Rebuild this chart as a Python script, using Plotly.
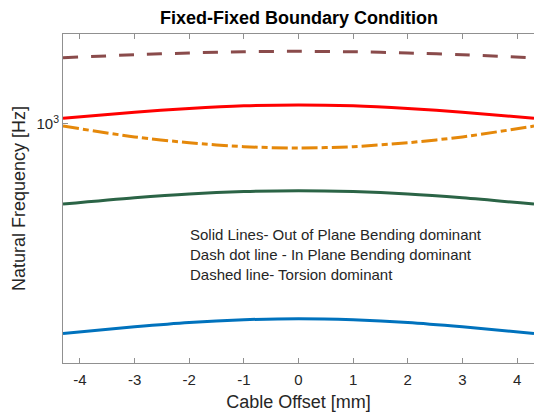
import plotly.graph_objects as go

offset_mm = [-4.31, -3, -2, -1, 0, 1, 2, 3, 4.31]
torsion_hz = [1374, 1394, 1406, 1414, 1417, 1414, 1406, 1394, 1374]
oop_high_hz = [1028, 1058, 1077, 1091, 1096, 1091, 1077, 1058, 1028]
inplane_hz = [990, 940, 914, 897, 891, 897, 914, 940, 990]
oop_mid_hz = [681, 702, 715, 723, 726, 723, 715, 702, 681]
oop_low_hz = [366, 378, 386, 391, 393, 391, 386, 378, 366]

x_ticks = [-4, -3, -2, -1, 0, 1, 2, 3, 4]
x_tick_text = ["-4", "-3", "-2", "-1", "0", "1", "2", "3", "4"]
notes = ["Solid Lines- Out of Plane Bending dominant",
         "Dash dot line - In Plane Bending dominant",
         "Dashed line- Torsion dominant"]

series = [
    (oop_low_hz, "#0072BD", "solid"),
    (oop_mid_hz, "#2B6446", "solid"),
    (inplane_hz, "#E5880A", "16px,4px,6px,4px"),
    (oop_high_hz, "#FF0000", "solid"),
    (torsion_hz, "#8A4B4B", "15px,13px"),
]

fig = go.Figure()
for ys, col, dash in series:
    fig.add_trace(go.Scatter(x=offset_mm, y=ys, mode="lines",
                             line=dict(color=col, width=3, dash=dash, shape="spline", smoothing=0.8),
                             showlegend=False, hoverinfo="skip"))

font_family = "Liberation Sans, Arial, sans-serif"
for i, t in enumerate(notes):
    fig.add_annotation(x=0.265, y=0.39 - i * 0.06, xref="paper", yref="paper", text=t,
                       showarrow=False, xanchor="left", yanchor="middle",
                       font=dict(family=font_family, size=15, color="#262626"))

fig.update_layout(
    width=534, height=419,
    margin=dict(l=63, r=0, t=34, b=56),
    paper_bgcolor="white", plot_bgcolor="white",
    title=dict(text="<b>Fixed-Fixed Boundary Condition</b>", x=0.56, xanchor="center",
               y=1 - 18 / 419, yanchor="middle",
               font=dict(family=font_family, size=18, color="#000000")),
    font=dict(family=font_family, color="#262626"),
)
fig.update_xaxes(range=[-4.31, 4.31], tickvals=x_ticks, ticktext=x_tick_text,
                 ticks="inside", ticklen=5, ticklabelstandoff=3,
                 tickcolor="#909090", showline=True, linecolor="#909090", linewidth=1,
                 mirror="ticks", showgrid=False, zeroline=False,
                 tickfont=dict(size=15, color="#262626"),
                 title=dict(text="Cable Offset [mm]", font=dict(size=18, color="#262626"), standoff=8))
fig.update_yaxes(type="log", range=[2.502, 3.1875], tickvals=[1000], ticktext=["10<sup>3</sup>"],
                 ticks="inside", ticklen=5, tickcolor="#909090", showline=True, linecolor="#909090",
                 linewidth=1, mirror=False, showgrid=False, zeroline=False,
                 tickfont=dict(size=15, color="#262626"),
                 title=dict(text="Natural Frequency [Hz]", font=dict(size=18, color="#262626"), standoff=6))

fig.write_html("out.html")
